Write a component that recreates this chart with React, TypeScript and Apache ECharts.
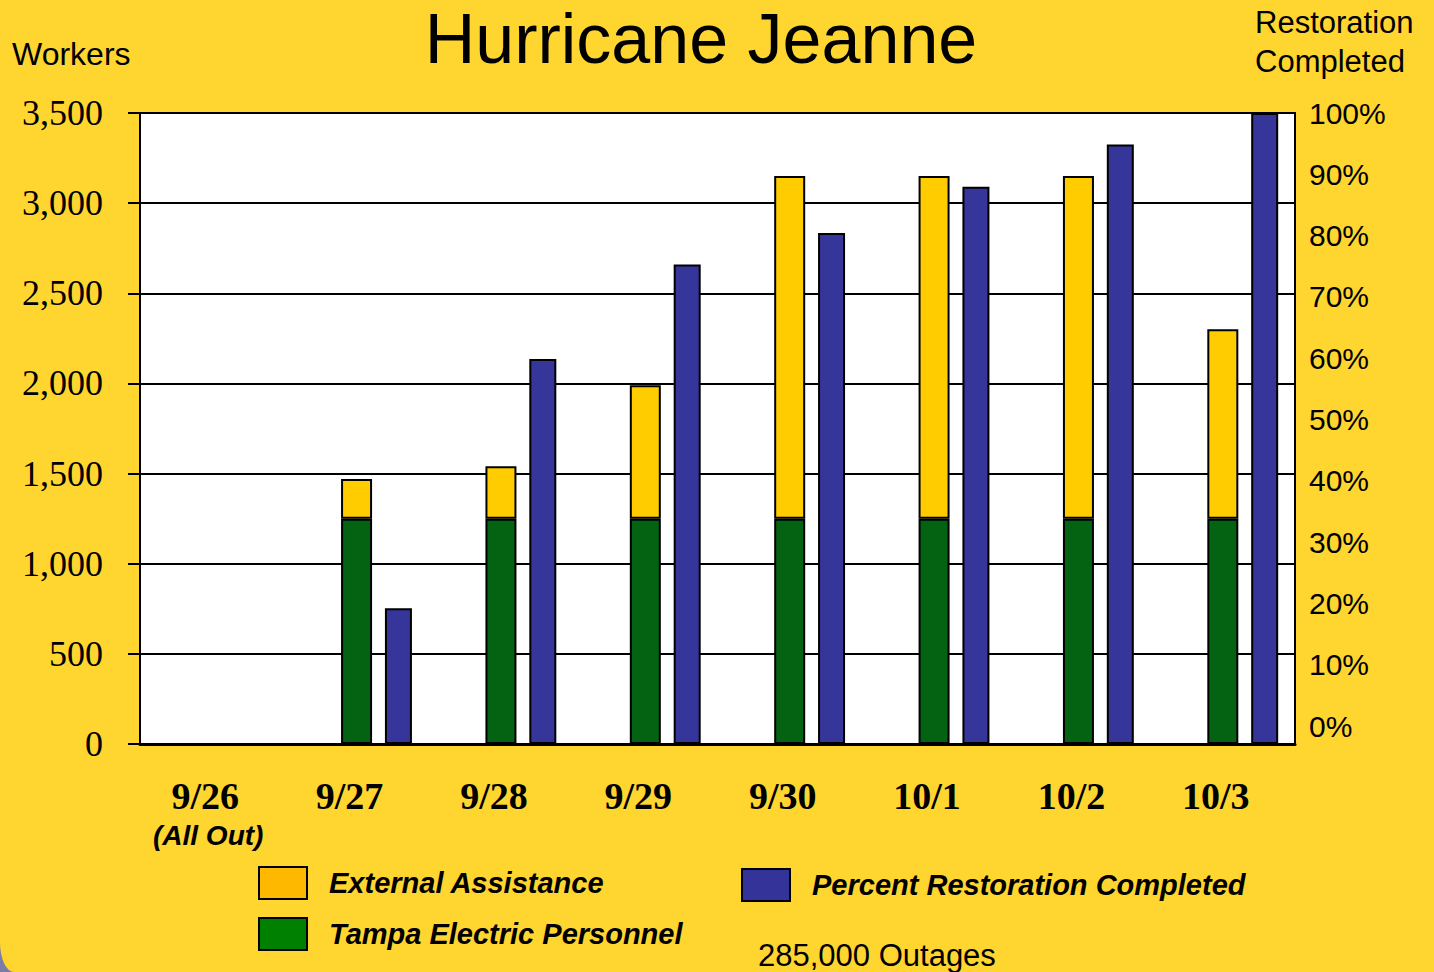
import React, { useEffect, useRef } from "react";
import * as echarts from "echarts";

const categories = ["9/26", "9/27", "9/28", "9/29", "9/30", "10/1", "10/2", "10/3"];
const tampaPersonnel = [null, 1250, 1250, 1250, 1250, 1250, 1250, 1250];
const externalAssistance = [null, 220, 290, 740, 1900, 1900, 1900, 1050];
const percentRestored = [0, 21.5, 61, 76, 81, 88.3, 95, 100];
const workerTicks = { min: 0, max: 3500, interval: 500 };
const percentTicks = { min: 0, max: 100, interval: 10 };

const BLUE_OFFSET = 0.29;
const SANS = 'Arial, "Liberation Sans", sans-serif';
const SERIF = '"Times New Roman", "Liberation Serif", serif';

export default function App() {
  const ref = useRef<HTMLDivElement>(null);
  useEffect(() => {
    document.body.style.margin = "0";
    const chart = echarts.init(ref.current!, null, { renderer: "svg" });
    const legendText = {
      color: "#000",
      fontSize: 29,
      fontWeight: "bold",
      fontStyle: "italic",
      fontFamily: SANS,
      padding: [2, 0, 0, 17],
    };
    const legendBase = {
      orient: "horizontal",
      padding: 0,
      itemWidth: 48,
      itemHeight: 32,
      icon: "rect",
      selectedMode: false,
      textStyle: legendText,
    };
    chart.setOption({
      animation: false,
      backgroundColor: "#FFD530",
      grid: [
        { left: 140, right: 139, top: 113, bottom: 228, show: true, backgroundColor: "#fff", borderColor: "#000", borderWidth: 2 },
        { left: 140, right: 139, top: 113, bottom: 246, show: false },
      ],
      xAxis: [
        {
          type: "category",
          gridIndex: 0,
          data: categories,
          axisLine: { onZero: false, lineStyle: { color: "#000", width: 3 } },
          axisTick: { length: 12, lineStyle: { color: "#000", width: 2 } },
          axisLabel: {
            margin: 32,
            interval: 0,
            formatter: (v: string, i: number) => (i === 0 ? `{d|${v}}\n{s|(All Out)}` : `{d|${v}}`),
            rich: {
              d: { fontSize: 38, fontWeight: "bold", fontFamily: SERIF, color: "#000", lineHeight: 40, padding: [0, 14, 0, 0] },
              s: { fontSize: 28, fontWeight: "bold", fontStyle: "italic", fontFamily: SANS, color: "#000", lineHeight: 38, padding: [0, 8, 0, 0] },
            },
          },
        },
        { type: "value", gridIndex: 0, min: -0.5, max: categories.length - 0.5, show: false },
        { type: "category", gridIndex: 1, data: categories, show: false },
      ],
      yAxis: [
        {
          type: "value",
          gridIndex: 0,
          ...workerTicks,
          axisLine: { show: true, onZero: false, lineStyle: { color: "#000", width: 2 } },
          axisTick: { show: true, length: 12, lineStyle: { color: "#000", width: 2 } },
          splitLine: { lineStyle: { color: "#000", width: 2 } },
          axisLabel: {
            formatter: (v: number) => v.toLocaleString("en-US"),
            fontSize: 36,
            fontFamily: SERIF,
            color: "#000",
            margin: 37,
          },
        },
        { type: "value", gridIndex: 0, ...percentTicks, show: false },
        {
          type: "value",
          gridIndex: 1,
          position: "right",
          ...percentTicks,
          axisLine: { show: false },
          axisTick: { show: false },
          splitLine: { show: false },
          axisLabel: { formatter: "{value}%", fontSize: 30, fontFamily: SANS, color: "#000", margin: 14 },
        },
      ],
      legend: [
        { ...legendBase, left: 258, top: 866, data: [{ name: "External Assistance", itemStyle: { color: "#FFB800", borderColor: "#000", borderWidth: 2 } }] },
        { ...legendBase, left: 258, top: 917, data: [{ name: "Tampa Electric Personnel", itemStyle: { color: "#008000", borderColor: "#000", borderWidth: 2 } }] },
        { ...legendBase, left: 741, top: 868, data: [{ name: "Percent Restoration Completed", itemStyle: { color: "#333399", borderColor: "#000", borderWidth: 2 } }] },
      ],
      series: [
        {
          name: "Tampa Electric Personnel",
          type: "bar",
          stack: "workers",
          data: tampaPersonnel,
          barWidth: 31,
          itemStyle: { color: "#036312", borderColor: "#000", borderWidth: 2 },
        },
        {
          name: "External Assistance",
          type: "bar",
          stack: "workers",
          data: externalAssistance,
          barWidth: 31,
          itemStyle: { color: "#FFCC00", borderColor: "#000", borderWidth: 2 },
        },
        {
          name: "Percent Restoration Completed",
          type: "bar",
          xAxisIndex: 1,
          yAxisIndex: 1,
          data: percentRestored.map((v, i) => [i + BLUE_OFFSET, v]),
          barWidth: 27,
          itemStyle: { color: "#35359A", borderColor: "#000", borderWidth: 2 },
        },
      ],
      graphic: [
        { type: "text", x: 701, y: 4, style: { text: "Hurricane Jeanne", fill: "#000", font: `70px ${SANS}`, align: "center", verticalAlign: "top" } },
        { type: "text", x: 12, y: 54, style: { text: "Workers", fill: "#000", font: `32px ${SANS}`, align: "left", verticalAlign: "middle" } },
        { type: "text", x: 1255, y: 22, style: { text: "Restoration", fill: "#000", font: `31px ${SANS}`, align: "left", verticalAlign: "middle" } },
        { type: "text", x: 1255, y: 61, style: { text: "Completed", fill: "#000", font: `31px ${SANS}`, align: "left", verticalAlign: "middle" } },
        { type: "text", x: 758, y: 955, style: { text: "285,000 Outages", fill: "#000", font: `31px ${SANS}`, align: "left", verticalAlign: "middle" } },
      ],
    });
    return () => chart.dispose();
  }, []);
  return (
    <div style={{ width: 1434, height: 972, background: "#7c7ca8" }}>
      <div
        ref={ref}
        style={{ width: 1434, height: 972, borderBottomLeftRadius: "14px 30px", overflow: "hidden" }}
      />
    </div>
  );
}
